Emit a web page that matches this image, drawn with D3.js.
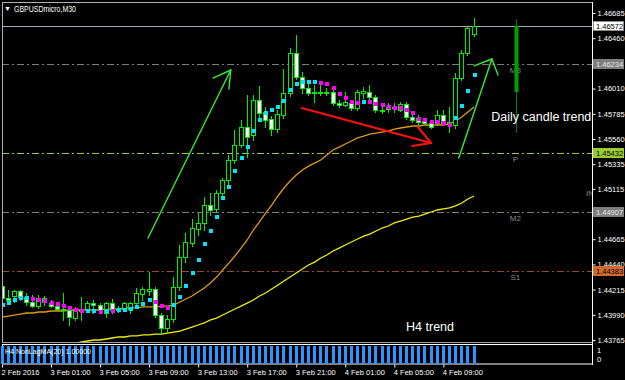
<!DOCTYPE html>
<html>
<head>
<meta charset="utf-8">
<script src="https://cdn.jsdelivr.net/npm/d3@7"></script>
<style>
  body { margin: 0; background: #000; }
  svg { display: block; }
  text { font-family: "Liberation Sans", Arial, sans-serif; }
</style>
</head>
<body>
<div id="chart"></div>
<script>
// GBPUSDmicro M30, 2 Feb 21:00 -> 4 Feb 11:30
const symbolTitle = 'GBPUSDmicro,M30';
const timeTickBars = [0, 8, 16, 24, 32, 40, 48, 56, 64, 72];
const timeLabels = ['2 Feb 2016', '3 Feb 01:00', '3 Feb 05:00', '3 Feb 09:00', '3 Feb 13:00',
  '3 Feb 17:00', '3 Feb 21:00', '4 Feb 01:00', '4 Feb 05:00', '4 Feb 09:00'];
const priceTicks = [1.46685, 1.46460, 1.46235, 1.46010, 1.45785, 1.45560, 1.45335, 1.45115,
  1.44890, 1.44665, 1.44440, 1.44215, 1.43990, 1.43765];

const open = [
  1.44247,1.44140,1.44158,1.44203,1.44149,1.44104,1.44068,1.44104,1.44095,1.44068,
  1.44042,1.44033,1.43961,1.44033,1.44042,1.44095,1.44077,1.44006,1.44095,1.44033,
  1.44042,1.44042,1.44095,1.44176,1.44203,1.44221,1.43988,1.43872,1.43952,1.44238,
  1.44506,1.44631,1.44756,1.44810,1.44970,1.44935,1.45078,1.45194,1.45372,1.45506,
  1.45667,1.45595,1.45908,1.45801,1.45738,1.45649,1.45774,1.45971,1.46328,1.46113,
  1.46015,1.45980,1.45971,1.45980,1.45980,1.45881,1.45863,1.45881,1.45837,1.45971,
  1.45980,1.45935,1.45819,1.45828,1.45846,1.45819,1.45872,1.45756,1.45747,1.45721,
  1.45703,1.45703,1.45774,1.45703,1.45685,1.46104,1.46328,1.46497];
const high = [
  1.44274,1.44212,1.44212,1.44212,1.44185,1.44167,1.44167,1.44158,1.44122,1.44095,
  1.44185,1.44060,1.44060,1.44149,1.44113,1.44122,1.44095,1.44104,1.44131,1.44068,
  1.44104,1.44104,1.44229,1.44238,1.44372,1.44238,1.44006,1.43988,1.44327,1.44613,
  1.44720,1.44845,1.44899,1.45042,1.45078,1.45105,1.45211,1.45417,1.45640,1.45730,
  1.45953,1.45953,1.46033,1.45846,1.45765,1.45819,1.46185,1.46372,1.46488,1.46158,
  1.46051,1.46042,1.46060,1.46015,1.45998,1.45908,1.45980,1.45908,1.45998,1.46024,
  1.46042,1.45953,1.45846,1.45881,1.45881,1.45890,1.45890,1.45774,1.45774,1.45747,
  1.45721,1.45819,1.45819,1.45846,1.46149,1.46355,1.46560,1.46640];
const low = [
  1.44122,1.44095,1.44104,1.44122,1.44077,1.44060,1.44051,1.44077,1.44060,1.44033,
  1.43944,1.43899,1.43944,1.43944,1.44015,1.44006,1.44015,1.43970,1.44006,1.44015,
  1.44024,1.44006,1.44051,1.44122,1.44167,1.43970,1.43827,1.43836,1.43926,1.44212,
  1.44461,1.44604,1.44702,1.44747,1.44881,1.44908,1.45051,1.45149,1.45345,1.45488,
  1.45399,1.45551,1.45730,1.45667,1.45595,1.45622,1.45747,1.45944,1.46096,1.45971,
  1.45953,1.45890,1.45953,1.45953,1.45863,1.45846,1.45854,1.45819,1.45819,1.45926,
  1.45890,1.45801,1.45792,1.45801,1.45801,1.45810,1.45738,1.45712,1.45685,1.45694,
  1.45658,1.45685,1.45694,1.45622,1.45658,1.46087,1.46310,1.46480];
const close = [
  1.44140,1.44122,1.44203,1.44149,1.44104,1.44068,1.44140,1.44140,1.44068,1.44042,
  1.44033,1.43970,1.44033,1.44024,1.44095,1.44077,1.44033,1.44095,1.44033,1.44042,
  1.44095,1.44095,1.44185,1.44221,1.44221,1.43988,1.43872,1.43952,1.44238,1.44506,
  1.44640,1.44765,1.44810,1.44970,1.44926,1.45078,1.45194,1.45372,1.45506,1.45667,
  1.45577,1.45908,1.45792,1.45730,1.45649,1.45783,1.45971,1.46328,1.46113,1.46015,
  1.45971,1.45971,1.45980,1.45971,1.45881,1.45863,1.45890,1.45837,1.45980,1.45989,
  1.45935,1.45819,1.45810,1.45846,1.45837,1.45872,1.45756,1.45730,1.45712,1.45703,
  1.45667,1.45774,1.45703,1.45712,1.46104,1.46328,1.46551,1.46572];

// NonLagMA dots (1 = up / cyan, -1 = down / magenta)
const nonLag = [
  1.44086,1.44104,1.44131,1.44149,1.44149,1.44140,1.44131,1.44122,1.44104,1.44095,
  1.44077,1.44060,1.44042,1.44033,1.44033,1.44033,1.44024,1.44033,1.44033,1.44042,
  1.44042,1.44051,1.44068,1.44095,1.44131,1.44113,1.44077,1.44060,1.44086,1.44158,
  1.44256,1.44372,1.44488,1.44631,1.44747,1.44872,1.45042,1.45140,1.45283,1.45399,
  1.45497,1.45640,1.45738,1.45801,1.45828,1.45854,1.45908,1.46006,1.46060,1.46078,
  1.46078,1.46078,1.46069,1.46060,1.46024,1.45971,1.45935,1.45899,1.45890,1.45899,
  1.45899,1.45881,1.45872,1.45854,1.45846,1.45846,1.45828,1.45801,1.45747,1.45738,
  1.45721,1.45721,1.45712,1.45694,1.45756,1.45863,1.45998,1.46140];
const nonLagDir = [
  1,1,1,1,1,-1,-1,-1,-1,-1,
  -1,-1,-1,-1,1,1,-1,1,-1,1,
  1,1,1,1,1,-1,-1,-1,1,1,
  1,1,1,1,1,1,1,1,1,1,
  1,1,1,1,1,1,1,1,1,1,
  1,1,-1,-1,-1,-1,-1,-1,-1,1,
  -1,-1,-1,-1,-1,-1,-1,-1,-1,-1,
  -1,-1,-1,-1,1,1,1,1];

// orange moving average
const maFast = [
  1.43970,1.43979,1.43988,1.43997,1.44006,1.44006,1.44015,1.44015,1.44024,1.44024,
  1.44024,1.44033,1.44033,1.44033,1.44033,1.44033,1.44033,1.44042,1.44042,1.44042,
  1.44051,1.44051,1.44051,1.44060,1.44060,1.44060,1.44068,1.44068,1.44077,1.44104,
  1.44131,1.44158,1.44194,1.44229,1.44274,1.44327,1.44390,1.44452,1.44515,1.44586,
  1.44658,1.44747,1.44819,1.44899,1.44970,1.45051,1.45122,1.45185,1.45238,1.45283,
  1.45318,1.45345,1.45372,1.45417,1.45462,1.45488,1.45515,1.45542,1.45569,1.45586,
  1.45604,1.45613,1.45622,1.45631,1.45649,1.45658,1.45667,1.45676,1.45676,1.45685,
  1.45685,1.45685,1.45685,1.45694,1.45721,1.45756,1.45801,1.45846];
// yellow H4 trend line
const maH4 = [
  null,null,null,null,null,null,null,null,null,null,
  null,null,1.43738,1.43747,1.43756,1.43765,1.43765,1.43774,1.43783,1.43792,
  1.43792,1.43801,1.43801,1.43810,1.43810,1.43818,1.43818,1.43827,1.43836,1.43845,
  1.43863,1.43881,1.43899,1.43917,1.43944,1.43961,1.43988,1.44015,1.44042,1.44068,
  1.44095,1.44122,1.44158,1.44185,1.44221,1.44256,1.44292,1.44327,1.44363,1.44399,
  1.44435,1.44461,1.44497,1.44524,1.44560,1.44586,1.44613,1.44640,1.44667,1.44693,
  1.44711,1.44738,1.44765,1.44783,1.44810,1.44827,1.44845,1.44863,1.44872,1.44890,
  1.44908,1.44926,1.44935,1.44944,1.44962,1.44988,1.45024,1.45051];

// H4 NonLagMA histogram
const histValues = [
  1,1,1,1,1,1,1,1,1,1,1,1,1,1,1,1,1,1,1,1,1,1,1,1,1,1,
  1,1,1,1,1,1,1,1,1,1,1,1,1,1,1,1,1,1,1,1,1,1,1,1,1,1,
  1,1,1,1,1,1,1,1,1,1,1,1,1,1,1,1,1,1,1,1,1,1,1,1,1,1];

const bid = 1.46572;
const levelNames = ['M3', 'P', 'M2', 'S1'];
const levelValues = [1.46234, 1.45432, 1.44907, 1.44383];
const dailyBar = 84;
const dailyOHLC = [1.45980, 1.46631, 1.45613, 1.46572];

// hand drawn arrows: [bar, price] points, tip first
const arrowNames = ['up1', 'up2', 'down'];
const arrowShafts = [
  [[37.4, 1.46176], [23.9, 1.44676]],
  [[80.0, 1.46274], [74.6, 1.45390]],
  [[70.1, 1.45524], [49.0, 1.45837]]];
const arrowHeads = [
  [[34.5, 1.46104], [37.1, 1.46006]],
  [[77.1, 1.46212], [81.0, 1.46131]],
  [[67.9, 1.45667], [67.0, 1.45497]]];
const noteTexts = ['Daily candle trend', 'H4 trend'];
const notePoints = [[79.9, 1.45720], [66.0, 1.43845]];

const W = 625, H = 380;
const pLeft = 2, pRight = 592, pTop = 2, pBottom = 342;

const svg = d3.select('#chart').append('svg')
  .attr('width', W).attr('height', H)
  .style('background', '#000');

const x = d3.scaleLinear().domain([0, 77]).range([1.5, 473.5]);
const y = d3.scaleLinear().domain([1.43765, 1.46685]).range([340, 13]);
const yInd = d3.scaleLinear().domain([0, 1]).range([363.5, 345.5]);

svg.append('clipPath').attr('id', 'main')
  .append('rect').attr('x', pLeft).attr('y', pTop).attr('width', pRight - pLeft).attr('height', pBottom - pTop);

const main = svg.append('g').attr('clip-path', 'url(#main)');

// pivot lines
const levelColor = { M3: '#7c7c7c', P: '#9acd32', M2: '#7c7c7c', S1: '#9a4a2c' };
levelNames.forEach(function (name, k) {
  const yy = Math.round(y(levelValues[k])) + 0.5;
  main.append('line')
    .attr('x1', pLeft).attr('x2', pRight).attr('y1', yy).attr('y2', yy)
    .attr('stroke', levelColor[name]).attr('stroke-width', 1)
    .attr('stroke-dasharray', '7,3,2,3');
  main.append('text')
    .attr('x', x(dailyBar) - 1).attr('y', yy + 8)
    .attr('text-anchor', 'middle')
    .attr('font-size', 8).attr('fill', '#8a8a8a')
    .text(name);
});
main.append('text').attr('x', 586).attr('y', 196)
  .attr('font-size', 8).attr('fill', '#8a8a8a').text('IN');

// bid line
main.append('line')
  .attr('x1', pLeft).attr('x2', pRight)
  .attr('y1', Math.round(y(bid)) + 0.5).attr('y2', Math.round(y(bid)) + 0.5)
  .attr('stroke', '#a8acb4').attr('stroke-width', 1);

// moving averages
const line = d3.line()
  .defined(function (d) { return d != null; })
  .x(function (d, i) { return x(i) + 0.5; })
  .y(function (d) { return y(d); });
main.append('path').datum(maH4).attr('d', line)
  .attr('fill', 'none').attr('stroke', '#f2f000').attr('stroke-width', 1.3);
main.append('path').datum(maFast).attr('d', line)
  .attr('fill', 'none').attr('stroke', '#e09a10').attr('stroke-width', 1.3);

// candles
const idx = d3.range(open.length);
const candles = main.append('g').attr('shape-rendering', 'crispEdges');
candles.selectAll('line.wick').data(idx).enter().append('line')
  .attr('class', 'wick')
  .attr('x1', function (i) { return Math.round(x(i)) + 0.5; })
  .attr('x2', function (i) { return Math.round(x(i)) + 0.5; })
  .attr('y1', function (i) { return Math.round(y(high[i])); })
  .attr('y2', function (i) { return Math.round(y(low[i])) + 1; })
  .attr('stroke', '#00ee00');
candles.selectAll('rect.body').data(idx).enter().append('rect')
  .attr('class', 'body')
  .attr('x', function (i) { return Math.round(x(i)) - 1.5; })
  .attr('y', function (i) { return Math.round(y(Math.max(open[i], close[i]))) + 0.5; })
  .attr('width', 4)
  .attr('height', function (i) {
    return Math.max(1, Math.round(y(Math.min(open[i], close[i]))) - Math.round(y(Math.max(open[i], close[i]))));
  })
  .attr('fill', function (i) { return close[i] >= open[i] ? '#000' : '#fff'; })
  .attr('stroke', '#00ee00');

// NonLagMA dots
main.append('g').attr('shape-rendering', 'crispEdges')
  .selectAll('rect').data(idx).enter().append('rect')
  .attr('x', function (i) { return Math.round(x(i)) - 1.5; })
  .attr('y', function (i) { return Math.round(y(nonLag[i])) - 1.5; })
  .attr('width', 4).attr('height', 4)
  .attr('fill', function (i) { return nonLagDir[i] > 0 ? '#00e4ff' : '#ff00ff'; });

// daily candle overlay
const dx = Math.round(x(dailyBar)) + 0.5;
main.append('line').attr('x1', dx).attr('x2', dx)
  .attr('y1', y(dailyOHLC[1])).attr('y2', y(dailyOHLC[2]))
  .attr('stroke', '#007a00');
main.append('rect')
  .attr('x', dx - 2).attr('y', y(dailyOHLC[3]))
  .attr('width', 4).attr('height', y(dailyOHLC[0]) - y(dailyOHLC[3]))
  .attr('fill', '#009e00');

// arrows
const arrowColor = { up1: '#33ee33', up2: '#33ee33', down: '#ff1010' };
const arrowWidth = { up1: 1.4, up2: 1.4, down: 2 };
arrowNames.forEach(function (name, k) {
  const tip = arrowShafts[k][0];
  const segs = [arrowShafts[k][1], arrowHeads[k][0], arrowHeads[k][1]];
  segs.forEach(function (p) {
    main.append('line')
      .attr('x1', x(tip[0])).attr('y1', y(tip[1]))
      .attr('x2', x(p[0])).attr('y2', y(p[1]))
      .attr('stroke', arrowColor[name]).attr('stroke-width', arrowWidth[name])
      .attr('stroke-linecap', 'round');
  });
});

noteTexts.forEach(function (t, k) {
  main.append('text')
    .attr('x', x(notePoints[k][0])).attr('y', y(notePoints[k][1]))
    .attr('font-size', 12.5).attr('fill', '#fff')
    .text(t);
});

// title
svg.append('text').attr('x', 4).attr('y', 11).attr('font-size', 7).attr('fill', '#fff')
  .attr('font-family', 'DejaVu Sans').text('\u25BC');
svg.append('text').attr('x', 14).attr('y', 11.5).attr('font-size', 8.5).attr('fill', '#fff')
  .attr('textLength', 62).attr('lengthAdjust', 'spacingAndGlyphs')
  .text(symbolTitle);

// frame
svg.append('line').attr('x1', pLeft).attr('x2', pRight).attr('y1', pTop + 0.5).attr('y2', pTop + 0.5)
  .attr('stroke', '#b0b0b0');
svg.append('line').attr('x1', pLeft + 0.5).attr('x2', pLeft + 0.5).attr('y1', pTop).attr('y2', pBottom)
  .attr('stroke', '#b0b0b0');
svg.append('line').attr('x1', pLeft).attr('x2', pRight).attr('y1', pBottom + 0.5).attr('y2', pBottom + 0.5)
  .attr('stroke', '#a0a0a0');
svg.append('line').attr('x1', pRight + 0.5).attr('x2', pRight + 0.5).attr('y1', pTop).attr('y2', 365)
  .attr('stroke', '#fff');

// price boxes cover the tick labels they sit on; skip those hidden fully
const boxValues = [bid].concat(levelValues);
const shownTicks = priceTicks.filter(function (t) {
  return boxValues.every(function (v) { return Math.abs(y(t) - y(v)) > 3; });
});

// price axis
const yAxis = d3.axisRight(y).tickValues(shownTicks).tickSize(3).tickPadding(2)
  .tickFormat(d3.format('.5f'));
const ya = svg.append('g').attr('transform', 'translate(' + (pRight + 0.5) + ',0)').call(yAxis);
ya.select('.domain').remove();
ya.selectAll('line').attr('stroke', '#fff');
ya.selectAll('text').attr('fill', '#fff').attr('font-size', 7.5)
  .attr('font-family', '"Liberation Sans", Arial, sans-serif');

// price boxes
const boxFill = ['#ffffff', '#7e7e7e', '#9acd32', '#7e7e7e', '#d2692e'];
const boxText = ['#000', '#e8e8e8', '#000', '#e8e8e8', '#000'];
boxValues.forEach(function (v, k) {
  const yy = Math.round(y(v));
  svg.append('rect').attr('x', 593.5).attr('y', yy - 4.5).attr('width', 30).attr('height', 9)
    .attr('fill', boxFill[k]).attr('stroke', k === 0 ? '#888' : boxFill[k]);
  svg.append('text').attr('x', 596).attr('y', yy + 3)
    .attr('font-size', 7.5).attr('fill', boxText[k])
    .text(d3.format('.5f')(v));
});

// indicator panel
svg.append('rect').attr('x', pLeft + 0.5).attr('y', 344.5).attr('width', pRight - pLeft).attr('height', 19.5)
  .attr('fill', '#000').attr('stroke', '#fff');
svg.append('g').attr('shape-rendering', 'crispEdges')
  .selectAll('rect').data(idx).enter().append('rect')
  .attr('x', function (i) { return Math.round(x(i)) - 1; })
  .attr('y', yInd(1))
  .attr('width', 3)
  .attr('height', function (i) { return yInd(0) - yInd(histValues[i]); })
  .attr('fill', '#2a95ff');
svg.append('text').attr('x', 5).attr('y', 354).attr('font-size', 7.5).attr('fill', '#fff')
  .attr('textLength', 86).attr('lengthAdjust', 'spacingAndGlyphs')
  .text('H4 NonLagMA(20) 1.00000');
svg.append('text').attr('x', 597).attr('y', 353).attr('font-size', 7.5).attr('fill', '#fff').text('1');
svg.append('text').attr('x', 597).attr('y', 362).attr('font-size', 7.5).attr('fill', '#fff').text('0');

// time axis
const xAxis = d3.axisBottom(x).tickValues(timeTickBars).tickSize(3).tickPadding(2)
  .tickFormat(function (d, i) { return timeLabels[i]; });
const xa = svg.append('g').attr('transform', 'translate(0.5,364.5)').call(xAxis);
xa.select('.domain').remove();
xa.selectAll('line').attr('stroke', '#fff');
xa.selectAll('text').attr('fill', '#fff').attr('font-size', 7.5)
  .attr('text-anchor', 'start').attr('dx', -1)
  .attr('font-family', '"Liberation Sans", Arial, sans-serif');
</script>
</body>
</html>
